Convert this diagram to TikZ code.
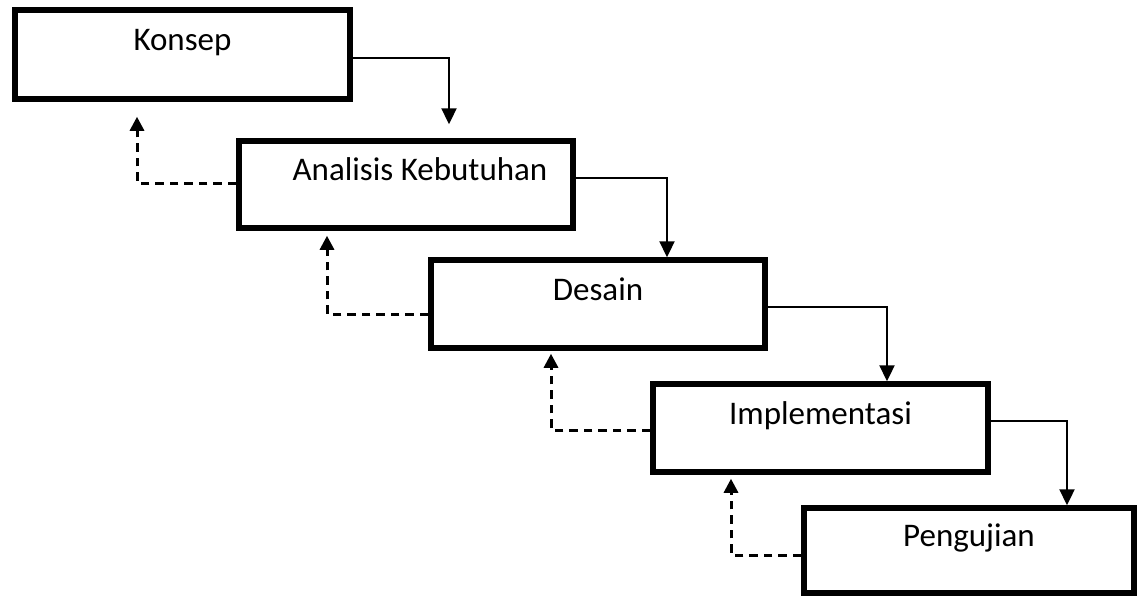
\documentclass[tikz,border=0pt]{standalone}
\usepackage{fontspec}
\setmainfont{Carlito}
\usepackage{tikz}
\usetikzlibrary{arrows.meta}
\tikzset{stage/.style = {draw, rectangle, line width=5.5pt, inner sep=0pt,
    minimum width=334pt, minimum height=88pt, text height=24pt, text depth=32pt,
    font=\fontsize{33}{40}\selectfont},
  flow/.style = {line width=2.3pt, -{Triangle[width=15pt,length=16pt]}},
  back/.style = {line width=3pt, dash pattern=on 8.5pt off 6pt,
    -{Triangle[width=14pt,length=14pt]}}}

\begin{document}
\begin{tikzpicture}[x=1pt, y=-1pt]
      \useasboundingbox (0,0) rectangle (1138,595);
      \node [stage, minimum width=335pt, minimum height=89pt] (konsep) at (182.5,54.5) {Konsep};
      \node [stage, minimum height=87pt] (analisis) at (406,184.5) {\hspace*{28pt}Analisis Kebutuhan};
      \node [stage] (desain) at (598,304) {Desain};
      \node [stage, minimum width=335pt] (implementasi) at (820.5,428) {Implementasi};
      \node [stage, minimum width=330pt, minimum height=85pt] (pengujian) at (969,550.5) {Pengujian};
      \draw [flow, shorten >=14pt] ([yshift=-3.5pt]konsep.east) -| ([xshift=43pt]analisis.north);
      \draw [flow] ([yshift=6.5pt]analisis.east) -| ([xshift=69pt]desain.north);
      \draw [flow] ([yshift=-3pt]desain.east) -| ([xshift=66.5pt]implementasi.north);
      \draw [flow] ([yshift=7pt]implementasi.east) -| ([xshift=98pt]pengujian.north);
      \draw [back, shorten >=15pt] ([yshift=1.5pt]analisis.west) -| ([xshift=-45.5pt]konsep.south);
      \draw [back, shorten >=5pt] ([yshift=-10pt]desain.west) -| ([xshift=-79pt]analisis.south);
      \draw [back, shorten >=3pt] ([yshift=-2pt]implementasi.west) -| ([xshift=-47pt]desain.south);
      \draw [back, shorten >=4pt] ([yshift=-4.5pt]pengujian.west) -| ([xshift=-89.5pt]implementasi.south);
    \end{tikzpicture}
\end{document}
